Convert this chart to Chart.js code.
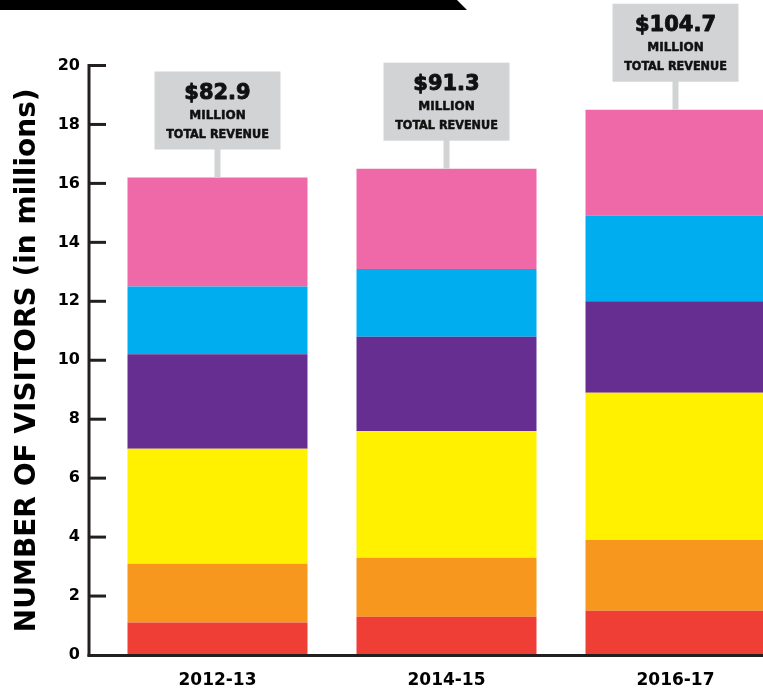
<!DOCTYPE html>
<html><head><meta charset="utf-8">
<script src="https://cdn.jsdelivr.net/npm/chart.js@4.4.1/dist/chart.umd.min.js"></script>
<style>
html,body{margin:0;padding:0;background:#fff;overflow:hidden;width:763px;height:692px}
#wrap{position:absolute;left:0;top:0;width:800px;height:692px}
</style>
</head><body><div id="wrap"><canvas id="c" width="800" height="692"></canvas></div>
<script>
// ---- data ----
const categories = ['2012-13', '2014-15', '2016-17'];
const redSeg    = [1.1, 1.3, 1.5];
const orangeSeg = [2.0, 2.0, 2.4];
const yellowSeg = [3.9, 4.3, 5.0];
const purpleSeg = [3.2, 3.2, 3.1];
const blueSeg   = [2.3, 2.3, 2.9];
const pinkSeg   = [3.7, 3.4, 3.6];
const revenue = ['$82.9', '$91.3', '$104.7'];
const revenueUnit = 'MILLION';
const revenueLabel = 'TOTAL REVENUE';
const yTitle = 'NUMBER OF VISITORS (in millions)';
const yMin = 0, yMax = 20, yStep = 2;

const seriesValues = [redSeg, orangeSeg, yellowSeg, purpleSeg, blueSeg, pinkSeg];
const seriesColors = ['#ef3e36', '#f7971d', '#fff100', '#662e91', '#00adee', '#ef69a8'];

const INK = '#231f20';

const decor = {
  id: 'decor',
  beforeDraw(chart) {
    const ctx = chart.ctx;
    ctx.save();
    ctx.fillStyle = '#000';
    ctx.beginPath();
    ctx.moveTo(0, 0); ctx.lineTo(457, 0); ctx.lineTo(467, 10); ctx.lineTo(0, 10);
    ctx.closePath(); ctx.fill();
    ctx.restore();
  },
  afterDraw(chart) {
    const {ctx, chartArea, scales: {y}} = chart;
    const axisX = chartArea.left - 14;
    ctx.save();
    ctx.strokeStyle = INK;
    ctx.lineWidth = 3;
    // vertical axis
    ctx.beginPath();
    ctx.moveTo(axisX, y.getPixelForValue(yMax) - 1.5);
    ctx.lineTo(axisX, chartArea.bottom + 1.5);
    ctx.stroke();
    // baseline
    ctx.beginPath();
    ctx.moveTo(axisX - 1.5, chartArea.bottom + 0.5);
    ctx.lineTo(chart.width, chartArea.bottom + 0.5);
    ctx.stroke();
    // tick marks (inside)
    y.ticks.forEach(t => {
      if (t.value === yMin) return;
      const py = y.getPixelForValue(t.value);
      ctx.beginPath();
      ctx.moveTo(axisX, py);
      ctx.lineTo(axisX + 17, py);
      ctx.stroke();
    });
    // revenue boxes
    const meta = chart.getDatasetMeta(chart.data.datasets.length - 1);
    meta.data.forEach((el, i) => {
      const cx = el.x, topY = el.y;
      const bw = 126, bh = 78;
      const bTop = topY - 106;
      ctx.fillStyle = '#d1d3d4';
      ctx.fillRect(cx - 3, bTop + bh - 1, 6, topY - (bTop + bh) + 1);
      ctx.fillRect(cx - bw / 2, bTop, bw, bh);
      ctx.fillStyle = '#111';
      ctx.strokeStyle = '#111';
      ctx.lineJoin = 'round';
      ctx.textAlign = 'center';
      ctx.textBaseline = 'alphabetic';
      ctx.font = 'bold 21px "DejaVu Sans"';
      ctx.lineWidth = 0.9;
      ctx.fillText(revenue[i], cx, bTop + 27);
      ctx.strokeText(revenue[i], cx, bTop + 27);
      ctx.font = 'bold 12px "DejaVu Sans"';
      ctx.lineWidth = 0.5;
      ctx.fillText(revenueUnit, cx, bTop + 47);
      ctx.strokeText(revenueUnit, cx, bTop + 47);
      ctx.font = 'bold 12.5px "DejaVu Sans Condensed", "DejaVu Sans"';
      ctx.fillText(revenueLabel, cx, bTop + 66);
      ctx.strokeText(revenueLabel, cx, bTop + 66);
    });
    ctx.restore();
  }
};

new Chart(document.getElementById('c'), {
  type: 'bar',
  data: {
    labels: categories,
    datasets: seriesValues.map((vals, i) => ({
      data: vals,
      backgroundColor: seriesColors[i],
      borderWidth: 0,
      categoryPercentage: 1,
      barPercentage: 0.786
    }))
  },
  options: {
    responsive: false,
    animation: false,
    devicePixelRatio: 1,
    layout: { padding: { top: 65.5, right: 10, left: 0, bottom: 0 } },
    plugins: { legend: { display: false }, tooltip: { enabled: false } },
    scales: {
      x: {
        stacked: true,
        grid: { display: false, drawTicks: false },
        border: { display: false },
        ticks: {
          color: '#000',
          padding: 15,
          font: { family: '"DejaVu Sans"', weight: 'bold', size: 17, lineHeight: 1.2 }
        },
        afterFit(s) { s.height = 37; }
      },
      y: {
        stacked: true,
        min: yMin, max: yMax,
        grid: { display: false, drawTicks: false },
        border: { display: false },
        ticks: {
          stepSize: yStep,
          color: '#000',
          padding: 23,
          font: { family: '"DejaVu Sans"', weight: 'bold', size: 16 }
        },
        title: {
          display: true,
          text: yTitle,
          color: '#000',
          padding: { top: 11, bottom: 0 },
          font: { family: '"DejaVu Sans"', weight: 'bold', size: 28, lineHeight: 1.2 }
        },
        afterFit(s) { s.width = 103; }
      }
    }
  },
  plugins: [decor]
});
</script>
</body></html>
